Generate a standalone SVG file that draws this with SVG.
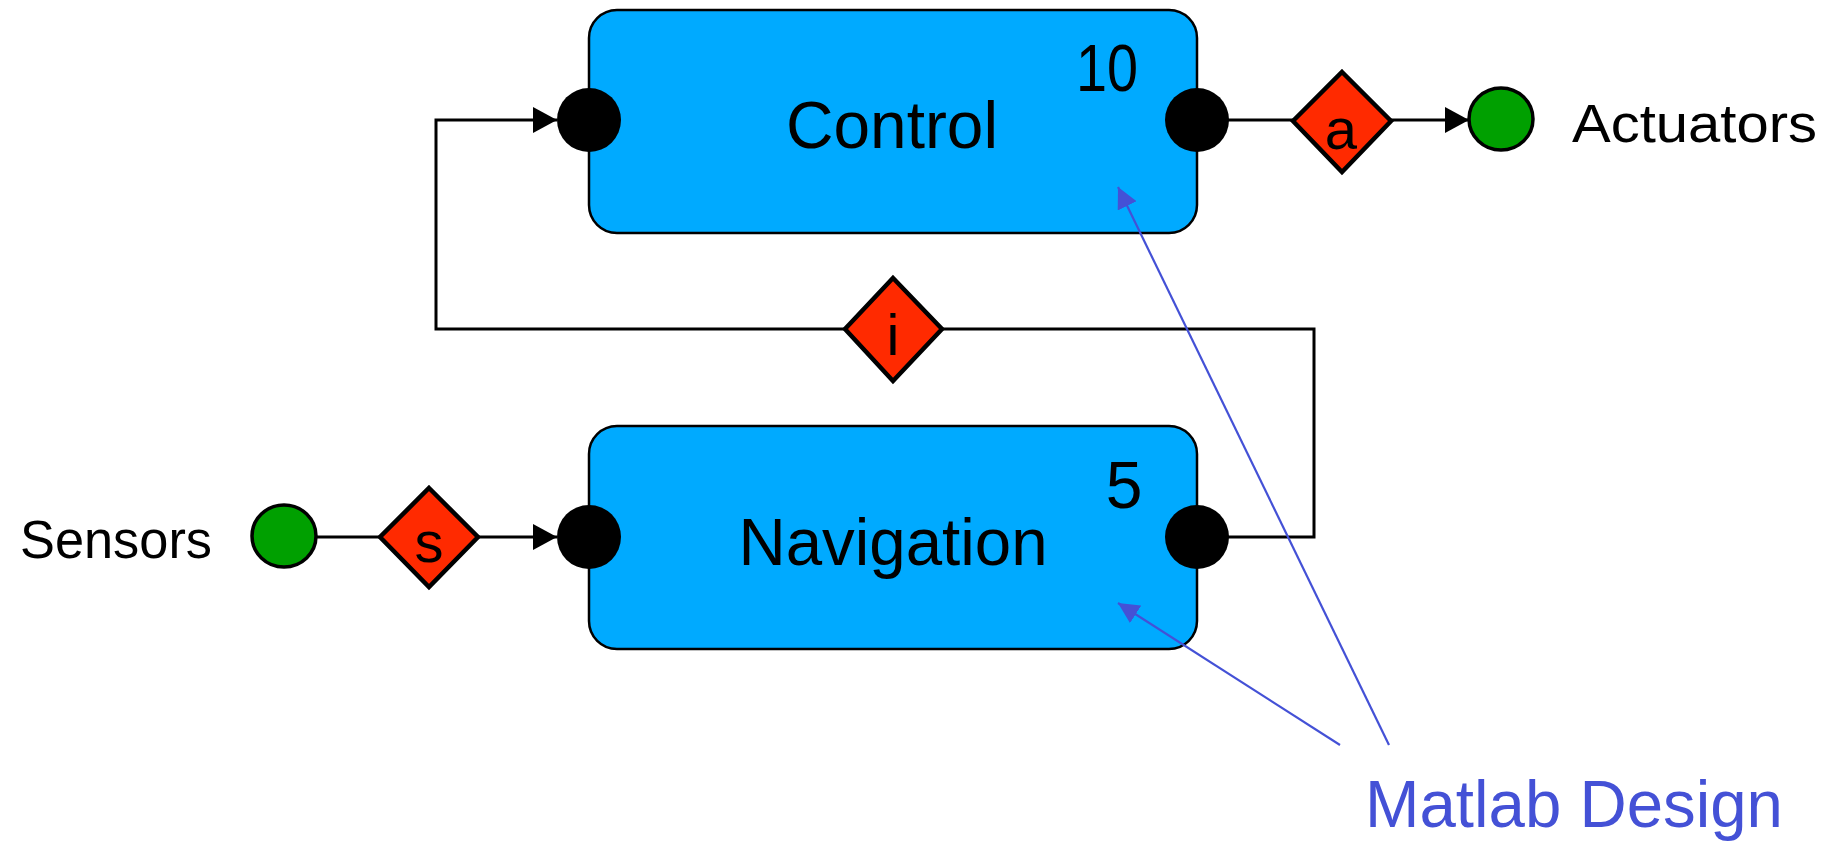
<svg xmlns="http://www.w3.org/2000/svg" width="1843" height="844" viewBox="0 0 1843 844">
  <style>
    .box { fill: #00aaff; stroke: #000; stroke-width: 2.5; }
    .port { fill: #000; }
    .ext { fill: #00a000; stroke: #000; stroke-width: 3.5; }
    .data { fill: #ff2a00; stroke: #000; stroke-width: 4.5; stroke-linejoin: miter; }
    .wire { fill: none; stroke: #000; stroke-width: 3; }
    .note { fill: none; stroke: #4451d6; stroke-width: 2.2; }
    text { font-family: "Comic Sans MS", "Liberation Sans", "DejaVu Sans", sans-serif; fill: #000; }
    .title { font-size: 66px; text-anchor: middle; }
    .rate { font-size: 66px; text-anchor: middle; }
    .tag { font-size: 58px; text-anchor: middle; }
    .io { font-size: 53px; }
    .noteText { font-size: 67px; fill: #4451d6; }
  </style>
  <defs>
    <marker id="arrow" viewBox="0 0 24 26" markerWidth="24" markerHeight="26" markerUnits="userSpaceOnUse" refX="24" refY="13" orient="auto">
      <path d="M0,0 L24,13 L0,26 Z" fill="#000"/>
    </marker>
    <marker id="noteArrow" viewBox="0 0 21 21" markerWidth="21" markerHeight="21" markerUnits="userSpaceOnUse" refX="21" refY="10.5" orient="auto">
      <path d="M0,0 L21,10.5 L0,21 Z" fill="#4451d6"/>
    </marker>
  </defs>

  <rect width="1843" height="844" fill="#fff"/>

  <!-- wiring between components -->
  <g id="connectors">
    <line class="wire" x1="317" y1="537" x2="382" y2="537"/>
    <line class="wire" x1="476" y1="537" x2="557" y2="537" marker-end="url(#arrow)"/>
    <path class="wire" d="M1197,537 H1314 V329 H436 V120 H557" marker-end="url(#arrow)"/>
    <line class="wire" x1="1197" y1="120" x2="1295" y2="120"/>
    <line class="wire" x1="1389" y1="120" x2="1469" y2="120" marker-end="url(#arrow)"/>
  </g>

  <g id="control">
    <rect class="box" x="589" y="10" width="608" height="223" rx="28" ry="28"/>
    <text class="title" x="892" y="148" textLength="212" lengthAdjust="spacingAndGlyphs">Control</text>
    <text class="rate" x="1107" y="91" textLength="62" lengthAdjust="spacingAndGlyphs">10</text>
    <ellipse class="port" cx="589" cy="120" rx="32" ry="32"/>
    <ellipse class="port" cx="1197" cy="120" rx="32" ry="32"/>
  </g>

  <g id="navigation">
    <rect class="box" x="589" y="426" width="608" height="223" rx="28" ry="28"/>
    <text class="title" x="893" y="565" textLength="309" lengthAdjust="spacingAndGlyphs">Navigation</text>
    <text class="rate" x="1124" y="508">5</text>
    <ellipse class="port" cx="589" cy="537" rx="32" ry="32"/>
    <ellipse class="port" cx="1197" cy="537" rx="32" ry="32"/>
  </g>

  <g id="data-s">
    <polygon class="data" points="429,488 478,537 429,587 380,537"/>
    <text class="tag" x="429" y="562">s</text>
  </g>

  <g id="data-i">
    <polygon class="data" points="893,278 942,329 893,381 845,329"/>
    <text class="tag" x="893" y="355">i</text>
  </g>

  <g id="data-a">
    <polygon class="data" points="1342,72 1391,121 1342,172 1293,121"/>
    <text class="tag" x="1341" y="149">a</text>
  </g>

  <g id="sensors">
    <ellipse class="ext" cx="284" cy="536" rx="32" ry="31"/>
    <text class="io" x="20" y="558" textLength="192" lengthAdjust="spacingAndGlyphs">Sensors</text>
  </g>

  <g id="actuators">
    <ellipse class="ext" cx="1501" cy="119" rx="32" ry="31"/>
    <text class="io" x="1572" y="142" textLength="245" lengthAdjust="spacingAndGlyphs">Actuators</text>
  </g>

  <!-- annotation pointing at both components -->
  <g id="matlab-design">
    <line class="note" x1="1389" y1="745" x2="1118" y2="187" marker-end="url(#noteArrow)"/>
    <line class="note" x1="1340" y1="745" x2="1118" y2="603" marker-end="url(#noteArrow)"/>
    <text class="noteText" x="1365" y="827" textLength="418" lengthAdjust="spacingAndGlyphs">Matlab Design</text>
  </g>
</svg>
